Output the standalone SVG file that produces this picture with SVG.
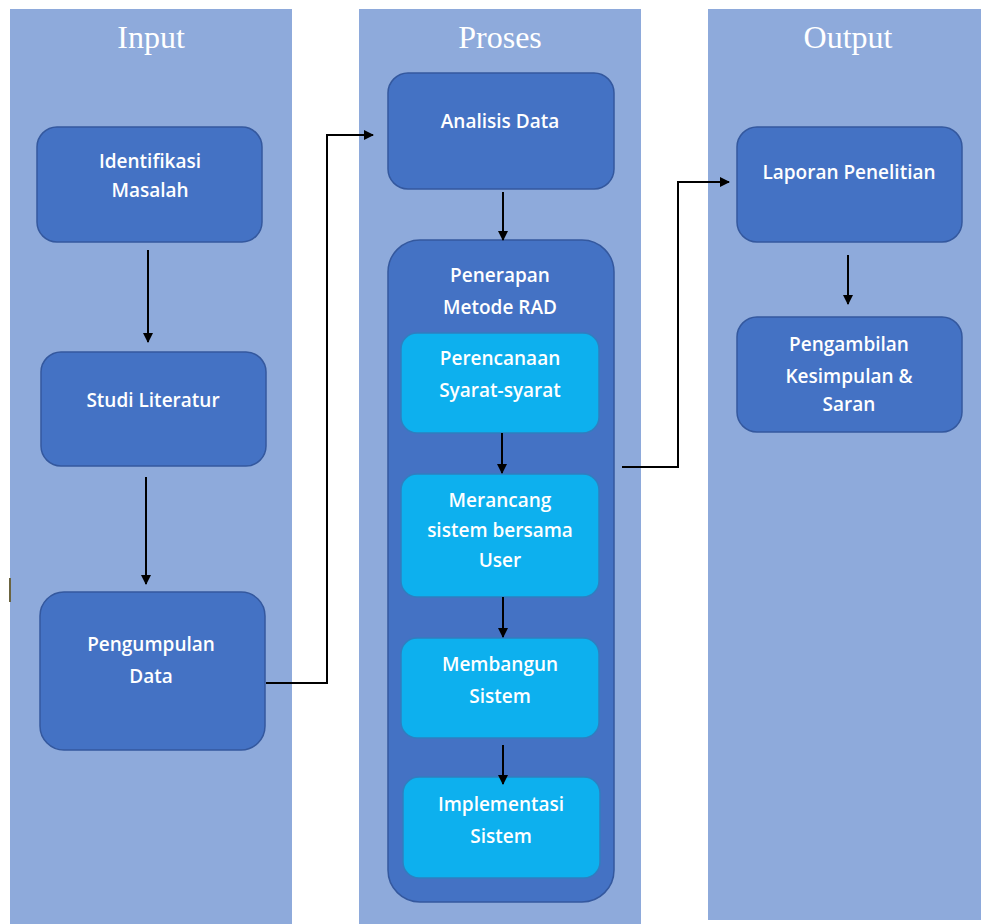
<svg xmlns="http://www.w3.org/2000/svg" width="981" height="924" viewBox="0 0 981 924">
<style>
.col{fill:#8eaadb;}
.hdr{font-family:"Liberation Serif",serif;font-size:32px;fill:#ffffff;text-anchor:middle;}
.box{fill:#4472c4;stroke:#34589e;stroke-width:1.5;}
.sub{fill:#0db0ee;stroke:#2f7fc0;stroke-width:1.5;}
.t{font-family:"Open Sans","Noto Sans",sans-serif;font-size:19px;font-weight:600;fill:#ffffff;text-anchor:middle;}
.c{fill:none;stroke:#000000;stroke-width:2;}
</style>
<defs>
<marker id="ah" markerWidth="10" markerHeight="10" refX="9" refY="5" orient="auto" markerUnits="userSpaceOnUse">
<path d="M0,0 L10,5 L0,10 z" fill="#000"/>
</marker>
</defs>
<rect width="981" height="924" fill="#ffffff"/>
<g id="lanes">
<rect class="col" x="10" y="9" width="282" height="915"/>
<rect class="col" x="359" y="9" width="282" height="915"/>
<rect class="col" x="708" y="9" width="273" height="911"/>
<text class="hdr" x="151" y="48">Input</text>
<text class="hdr" x="500" y="48">Proses</text>
<text class="hdr" x="848" y="48">Output</text>
<rect x="9" y="578" width="2" height="24" fill="#6b6440"/>
</g>
<g id="identifikasi">
<rect class="box" x="37" y="127" width="225" height="115" rx="20"/>
<text class="t" x="150" y="168">Identifikasi</text>
<text class="t" x="150" y="197">Masalah</text>
</g>
<g id="studi">
<rect class="box" x="41" y="352" width="225" height="114" rx="20"/>
<text class="t" x="153" y="407">Studi Literatur</text>
</g>
<g id="pengumpulan">
<rect class="box" x="40" y="592" width="225" height="158" rx="24"/>
<text class="t" x="151" y="651">Pengumpulan</text>
<text class="t" x="151" y="683">Data</text>
</g>
<g id="analisis">
<rect class="box" x="388" y="73" width="226" height="116" rx="20"/>
<text class="t" x="500" y="128">Analisis Data</text>
</g>
<g id="penerapan">
<rect class="box" x="388" y="240" width="226" height="662" rx="32"/>
<text class="t" x="500" y="282">Penerapan</text>
<text class="t" x="500" y="314">Metode RAD</text>
</g>
<g id="perencanaan">
<rect class="sub" x="401" y="333" width="198" height="100" rx="16"/>
<text class="t" x="500" y="365">Perencanaan</text>
<text class="t" x="500" y="397">Syarat-syarat</text>
</g>
<g id="merancang">
<rect class="sub" x="401" y="474" width="198" height="123" rx="16"/>
<text class="t" x="500" y="507">Merancang</text>
<text class="t" x="500" y="537">sistem bersama</text>
<text class="t" x="500" y="567">User</text>
</g>
<g id="membangun">
<rect class="sub" x="401" y="638" width="198" height="100" rx="16"/>
<text class="t" x="500" y="671">Membangun</text>
<text class="t" x="500" y="703">Sistem</text>
</g>
<g id="implementasi">
<rect class="sub" x="403" y="777" width="197" height="101" rx="16"/>
<text class="t" x="501" y="811">Implementasi</text>
<text class="t" x="501" y="843">Sistem</text>
</g>
<g id="laporan">
<rect class="box" x="737" y="127" width="225" height="115" rx="20"/>
<text class="t" x="849" y="179">Laporan Penelitian</text>
</g>
<g id="pengambilan">
<rect class="box" x="737" y="317" width="225" height="115" rx="20"/>
<text class="t" x="849" y="351">Pengambilan</text>
<text class="t" x="849" y="383">Kesimpulan &amp;</text>
<text class="t" x="849" y="411">Saran</text>
</g>
<g id="connectors">
<path class="c" d="M148,250 L148,342" marker-end="url(#ah)"/>
<path class="c" d="M146,477 L146,584" marker-end="url(#ah)"/>
<path class="c" d="M266,683 L327,683 L327,135 L373,135" marker-end="url(#ah)"/>
<path class="c" d="M503,192 L503,240" marker-end="url(#ah)"/>
<path class="c" d="M502,433 L502,473" marker-end="url(#ah)"/>
<path class="c" d="M503,597 L503,637" marker-end="url(#ah)"/>
<path class="c" d="M503,745 L503,784" marker-end="url(#ah)"/>
<path class="c" d="M622,467 L678,467 L678,182 L729,182" marker-end="url(#ah)"/>
<path class="c" d="M848,255 L848,304" marker-end="url(#ah)"/>
</g>
</svg>
